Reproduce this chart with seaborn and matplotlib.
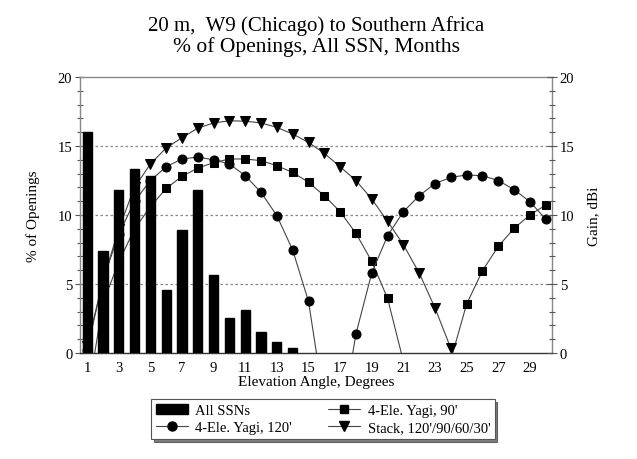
import matplotlib
matplotlib.use("Agg")
import matplotlib.pyplot as plt
from matplotlib.lines import Line2D
from matplotlib.patches import Patch
from matplotlib.ticker import MultipleLocator
import seaborn as sns

# % of openings per elevation angle (bars)
bar_angles = [1, 2, 3, 4, 5, 6, 7, 8, 9, 10, 11, 12, 13, 14]
openings = [16.0, 7.4, 11.8, 13.3, 12.8, 4.6, 8.9, 11.8, 5.65, 2.55, 3.1, 1.55, 0.8, 0.35]

# antenna gain, dBi (negative values fall below the visible range)
angles = list(range(1, 31))
yagi_90 = [-3.3, 3.6, 6.6, 9.0, 10.6, 11.93, 12.8, 13.4, 13.8, 14.06,
           14.06, 13.94, 13.57, 13.09, 12.37, 11.4, 10.24, 8.67, 6.64, 3.96,
           -0.6, -8.0, -8.0, -0.5, 3.55, 5.96, 7.73, 9.03, 10.0, 10.72]
yagi_120 = [0.2, 5.3, 8.6, 11.0, 12.5, 13.5, 14.06, 14.2, 14.0, 13.7,
            12.85, 11.64, 9.95, 7.46, 3.74, -3.7, -5.5, 1.38, 5.8, 8.5,
            10.24, 11.4, 12.28, 12.73, 12.9, 12.85, 12.5, 11.84, 10.97, 9.7]
stack_angles = list(range(1, 25))
stack = [0.5, 5.2, 9.0, 12.0, 13.7, 14.86, 15.6, 16.3, 16.67, 16.83,
         16.8, 16.67, 16.35, 15.87, 15.26, 14.47, 13.5, 12.5, 11.16, 9.54,
         7.85, 5.8, 3.26, 0.34]

sns.set_theme(style="white")
plt.rcParams["font.family"] = ["Liberation Serif", "DejaVu Serif"]
plt.rcParams["text.color"] = "black"
plt.rcParams["axes.labelcolor"] = "black"
plt.rcParams["xtick.color"] = "black"
plt.rcParams["ytick.color"] = "black"

fig = plt.figure(figsize=(6.37, 4.6), dpi=100)
ax = fig.add_axes([0.1256, 0.2304, 0.741, 0.600])

line_kw = dict(color="#444444", linewidth=0.8, markerfacecolor="black",
               markeredgecolor="black", zorder=2, legend=False)
sns.lineplot(x=angles, y=yagi_90, marker="s", markersize=5.5, ax=ax, **line_kw)
sns.lineplot(x=angles, y=yagi_120, marker="o", markersize=6.5, ax=ax, **line_kw)
sns.lineplot(x=stack_angles, y=stack, marker="v", markersize=7, ax=ax, **line_kw)

sns.barplot(x=bar_angles, y=openings, native_scale=True, color="black",
            width=0.58, saturation=1, edgecolor="black", zorder=3, ax=ax)

ax.set_xlim(0.55, 30.4)
ax.set_ylim(0, 20)
ax.set_xticks(angles)
ax.set_xticklabels([str(a) if a % 2 else "" for a in angles])
ax.yaxis.set_major_locator(MultipleLocator(5))
ax.yaxis.set_minor_locator(MultipleLocator(1))
for y in [5, 10, 15]:
    ax.axhline(y, color="#888888", linestyle=(0, (2, 2)), linewidth=0.9, zorder=1)

ax.tick_params(axis="both", which="major", direction="inout", length=7,
               width=0.8, labelsize=10.5, pad=2, colors="black")
ax.tick_params(axis="y", which="minor", direction="inout", length=5, width=0.8,
               left=True)
ax.tick_params(axis="x", which="major", color="#333333")
ax.tick_params(axis="y", which="both", color="#555555")

ax.set_xlabel("Elevation Angle, Degrees", fontsize=11, labelpad=1)
ax.set_ylabel("% of Openings", fontsize=11, labelpad=13)

for side in ["left", "top", "right"]:
    ax.spines[side].set_color("#888888")
    ax.spines[side].set_linewidth(1.0)
ax.spines["bottom"].set_color("#333333")
ax.spines["bottom"].set_linewidth(1.0)

ax2 = ax.twinx()
ax2.set_ylim(0, 20)
ax2.yaxis.set_major_locator(MultipleLocator(5))
ax2.yaxis.set_minor_locator(MultipleLocator(1))
ax2.tick_params(axis="y", which="major", direction="inout", length=7, width=0.8,
                labelsize=10.5, pad=2, color="#555555", labelcolor="black")
ax2.tick_params(axis="y", which="minor", direction="inout", length=5, width=0.8,
                color="#555555")
ax2.set_ylabel("Gain, dBi", fontsize=11, labelpad=9)
for side in ["left", "top", "right", "bottom"]:
    ax2.spines[side].set_visible(False)

fig.text(0.497, 0.943, "20 m,  W9 (Chicago) to Southern Africa",
         ha="center", va="center", fontsize=15)
fig.text(0.497, 0.897, "% of Openings, All SSN, Months",
         ha="center", va="center", fontsize=15.5)

handles = [
    Patch(facecolor="black", edgecolor="black", label="All SSNs"),
    Line2D([], [], color="#444444", lw=0.8, marker="o", markersize=6.5,
           mfc="black", mec="black", label="4-Ele. Yagi, 120'"),
    Line2D([], [], color="#444444", lw=0.8, marker="s", markersize=5.5,
           mfc="black", mec="black", label="4-Ele. Yagi, 90'"),
    Line2D([], [], color="#444444", lw=0.8, marker="v", markersize=7,
           mfc="black", mec="black", label="Stack, 120'/90/60/30'"),
]
leg = fig.legend(handles=handles, ncol=2, loc="center",
                 bbox_to_anchor=(0.507, 0.087), fontsize=10.5, frameon=True,
                 fancybox=False, shadow={"color": "black", "ox": 2, "oy": -2},
                 edgecolor="#555555", columnspacing=2.5, handlelength=2.2,
                 handletextpad=0.5, labelspacing=0.3, borderpad=0.3)
leg.get_frame().set_linewidth(0.8)

fig.savefig("out.png", dpi=100, facecolor="white")
